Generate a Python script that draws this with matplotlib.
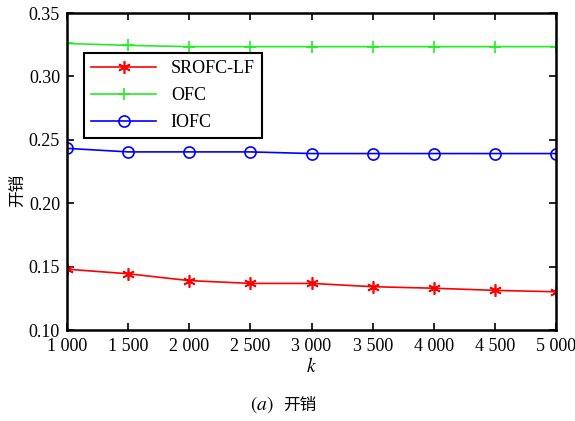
import numpy as np
import matplotlib.pyplot as plt

plt.rcParams['font.family'] = ['Liberation Serif', 'Noto Sans CJK SC']
plt.rcParams['mathtext.fontset'] = 'stix'

# 数据
k = [1000, 1500, 2000, 2500, 3000, 3500, 4000, 4500, 5000]
srofc_lf = [0.148, 0.1444, 0.139, 0.1368, 0.1368, 0.1342, 0.133, 0.1313, 0.1302]
ofc = [0.326, 0.3245, 0.3235, 0.3235, 0.3235, 0.3235, 0.3235, 0.3235, 0.3235]
iofc = [0.2433, 0.2405, 0.2405, 0.2405, 0.2392, 0.2392, 0.2392, 0.2392, 0.2392]
xtick_labels = ['1 000', '1 500', '2 000', '2 500', '3 000', '3 500', '4 000', '4 500', '5 000']

fig = plt.figure(figsize=(5.75, 4.21), dpi=100)
ax = fig.add_axes([0.1165, 0.216, 0.8505, 0.753])

ax.plot(k, srofc_lf, color='red', lw=1.2, marker=(6, 2, 0), ms=9, mew=1.2, label='SROFC-LF')
ax.plot(k, ofc, color='#22ee22', lw=1.2, marker='+', ms=9, mew=1.2, label='OFC')
ax.plot(k, iofc, color='blue', lw=1.2, marker='o', ms=8, mfc='none', mew=1.2, label='IOFC')

ax.set_xlim(1000, 5000)
ax.set_ylim(0.10, 0.35)
ax.set_xticks(k)
ax.set_xticklabels(xtick_labels)
ax.set_yticks(np.arange(0.10, 0.351, 0.05))
ax.set_yticklabels(['%.2f' % v for v in np.arange(0.10, 0.351, 0.05)])
ax.tick_params(direction='in', top=True, right=True, length=5, width=1.2, labelsize=13)
ax.tick_params(axis='x', pad=6)
ax.tick_params(axis='y', pad=5)
for s in ax.spines.values():
    s.set_linewidth(1.8)

ax.set_xlabel('$k$', fontsize=14, labelpad=1)
ax.set_ylabel('开销', fontsize=12)
ax.yaxis.set_label_coords(-0.083, 0.44)

leg = ax.legend(loc='upper left', bbox_to_anchor=(0.035, 0.874), borderaxespad=0,
                fancybox=False, edgecolor='black', fontsize=13, handlelength=3.6,
                labelspacing=0.55, framealpha=1)
leg.get_frame().set_linewidth(1.5)

fig.text(0.456, 0.038, r'$(a)$', ha='center', va='center', fontsize=14)
fig.text(0.522, 0.038, '开销', ha='center', va='center', fontsize=12,
         family='Noto Sans CJK SC')

plt.savefig('out.png', dpi=100)
